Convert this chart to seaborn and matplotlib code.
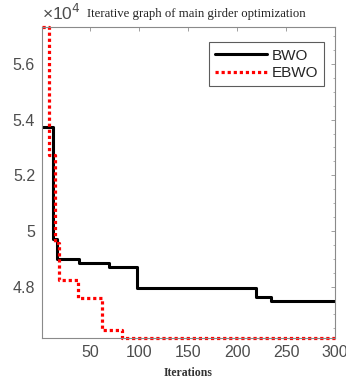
import numpy as np
import pandas as pd
import seaborn as sns
import matplotlib
matplotlib.use("Agg")
import matplotlib.pyplot as plt
from matplotlib.ticker import FuncFormatter, AutoMinorLocator, MultipleLocator

# step breakpoints (iteration, best fitness)
bwo_iter = [1, 12, 16, 39, 69, 98, 219, 235, 300]
bwo_val = [53750, 49700, 48980, 48860, 48710, 47950, 47620, 47470, 47470]

ebwo_iter = [1, 8, 14, 18, 38, 62, 83, 300]
ebwo_val = [57330, 52720, 49550, 48250, 47600, 46440, 46150, 46150]

y_ticks = [48000, 50000, 52000, 54000, 56000]
x_ticks = [50, 100, 150, 200, 250, 300]

df = pd.concat([
    pd.DataFrame({"Iterations": bwo_iter, "value": bwo_val, "algo": "BWO"}),
    pd.DataFrame({"Iterations": ebwo_iter, "value": ebwo_val, "algo": "EBWO"}),
])

sns.set_style("white")
plt.rcParams['font.family'] = ['Liberation Sans', 'DejaVu Sans']

fig = plt.figure(figsize=(3.46, 3.82), dpi=100)
ax = fig.add_axes([42 / 346, 1 - 338 / 382, 293 / 346, 311 / 382])

sns.lineplot(data=df[df.algo == "BWO"], x="Iterations", y="value", ax=ax,
             color="black", linewidth=2.2, drawstyle="steps-post", label="BWO")
sns.lineplot(data=df[df.algo == "EBWO"], x="Iterations", y="value", ax=ax,
             color="#ff0000", linewidth=2.3, drawstyle="steps-post", label="EBWO",
             dashes=False)
ax.lines[1].set_dashes((1, 0.9))
ax.lines[1].set_dash_capstyle("butt")
ax.lines[1].set_clip_on(False)

ax.set_xlim(1, 300)
ax.set_ylim(min(ebwo_val), max(ebwo_val))
ax.set_xticks(x_ticks)
ax.set_yticks(y_ticks)
ax.yaxis.set_minor_locator(AutoMinorLocator(4))
ax.xaxis.set_minor_locator(MultipleLocator(25))
ax.yaxis.set_major_formatter(FuncFormatter(lambda v, p: f"{v / 1e4:g}"))

ax.tick_params(which="both", direction="in", top=True, right=True,
               colors="#909090", labelcolor="#4d4d4d", labelsize=11.5)
ax.tick_params(which="major", length=3, width=0.6, pad=5)
ax.tick_params(which="minor", length=1.5, width=0.5)
ax.tick_params(axis="x", which="minor", length=0)
for s in ax.spines.values():
    s.set_color("#8a8a8a")
    s.set_linewidth(0.8)

ax.set_ylabel("")
ax.set_xlabel("Iterations", family=["Liberation Serif"], fontsize=8.5,
              fontweight="bold", color="#333333", labelpad=5)
ax.set_title("Iterative graph of main girder optimization",
             family=["Liberation Serif"], fontsize=9.2, color="#222222",
             x=0.527, pad=7)
fig.text(42 / 346, 1 - 13 / 382, "×10$^{4}$", fontsize=12.5, color="#4d4d4d",
         va="center", ha="left")

leg = ax.legend(loc="upper right", bbox_to_anchor=(0.99, 0.975), fontsize=11,
                handlelength=3.4, frameon=True, fancybox=False,
                borderpad=0.4, labelspacing=0.25, handletextpad=0.3)
leg.get_frame().set_edgecolor("#333333")
leg.get_frame().set_linewidth(0.8)
leg.get_lines()[1].set_dashes((1, 0.9))

fig.savefig("out.png", dpi=100)
